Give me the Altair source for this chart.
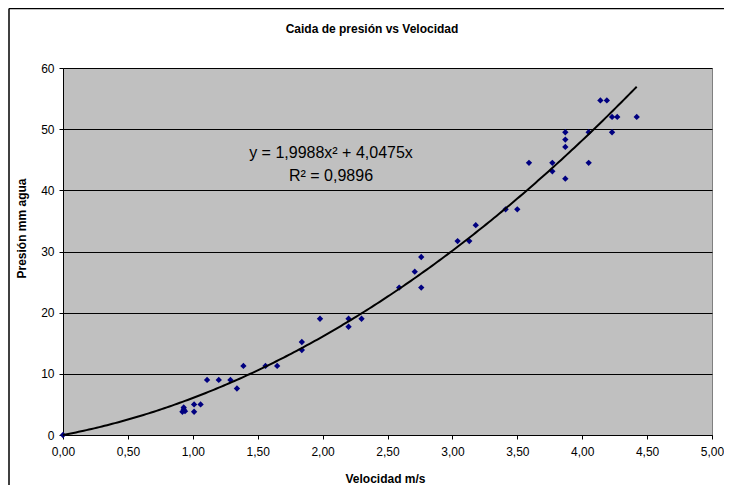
import altair as alt
import pandas as pd

velocidad = [0.0, 0.92, 0.93, 0.93, 0.94, 1.01, 1.01, 1.06, 1.11, 1.20, 1.29, 1.34, 1.39,
             1.56, 1.65, 1.84, 1.84, 1.98, 2.20, 2.20, 2.30, 2.59, 2.71, 2.76, 2.76, 3.04,
             3.13, 3.18, 3.41, 3.50, 3.59, 3.77, 3.77, 3.87, 3.87, 3.87, 3.87, 4.05, 4.05,
             4.14, 4.19, 4.23, 4.27, 4.23, 4.42]
presion = [0, 3.8, 4.2, 4.5, 3.9, 5.0, 3.8, 5.0, 9.0, 9.0, 9.0, 7.6, 11.3,
           11.3, 11.3, 15.2, 13.9, 19.0, 19.0, 17.7, 19.0, 24.1, 26.7, 29.1, 24.1, 31.7,
           31.7, 34.3, 36.9, 36.9, 44.5, 44.5, 43.1, 41.9, 47.1, 48.3, 49.5, 49.5, 44.5,
           54.7, 54.7, 52.0, 52.0, 49.5, 52.0]
x_ticks = [0, 0.5, 1, 1.5, 2, 2.5, 3, 3.5, 4, 4.5, 5]
y_ticks = [0, 10, 20, 30, 40, 50, 60]
title_text = "Caida de presión vs Velocidad"
eq_line1 = "y = 1,9988x² + 4,0475x"
eq_line2 = "R² = 0,9896"
# trendline coefficients as shown in the chart's equation (Excel poly fit, intercept 0)
coef_a = 1.9988
coef_b = 4.0475
v_max = 4.42

df = pd.DataFrame({"v": velocidad, "p": presion})

W, H = 649, 367
FONT = "Liberation Sans"

xs = alt.Scale(domain=[0, 5], nice=False)
ys = alt.Scale(domain=[0, 60], nice=False)

points = alt.Chart(df).mark_point(shape="diamond", filled=True, color="#000080", size=40, opacity=1).encode(
    x=alt.X("v:Q", scale=xs,
            axis=alt.Axis(values=x_ticks, title="Velocidad m/s",
                          labelExpr="replace(format(datum.value, '.2f'), '.', ',')",
                          labelFlush=False, grid=False, domainColor="black", tickColor="black",
                          tickSize=4, labelPadding=7,
                          titleX=322, titleY=43, titleBaseline="middle", titleAlign="center")),
    y=alt.Y("p:Q", scale=ys,
            axis=alt.Axis(values=y_ticks, title="Presión mm agua", format="d",
                          grid=True, gridColor="black", gridOpacity=1, gridWidth=1,
                          domainColor="black", tickColor="black", labelFlush=False,
                          tickSize=4, labelPadding=5,
                          titleX=-42, titleY=160, titleAngle=270,
                          titleBaseline="middle", titleAlign="center")),
)

trend = alt.Chart(alt.sequence(0, v_max + 0.001, 0.02, as_="v")).transform_calculate(
    p=f"{coef_a} * datum.v * datum.v + {coef_b} * datum.v"
).mark_line(color="black", strokeWidth=2).encode(
    x=alt.X("v:Q", scale=xs), y=alt.Y("p:Q", scale=ys)
)

def label(text, x, y, size, weight="normal", baseline="alphabetic"):
    return alt.Chart(pd.DataFrame({"t": [text]})).mark_text(
        font=FONT, fontSize=size, fontWeight=weight, color="black",
        align="center", baseline=baseline, clip=False
    ).encode(text="t:N", x=alt.value(x), y=alt.value(y))

eq1 = label(eq_line1, 268, 90, 16)
eq2 = label(eq_line2, 268, 113, 16)
ttl = label(title_text, 309, -39, 12, "bold", "middle")

border_df = pd.DataFrame({"a": [0]})
frame_left = alt.Chart(border_df).mark_rule(color="black", strokeWidth=1.5, clip=False).encode(
    x=alt.value(-54), y=alt.value(-59.5), y2=alt.value(440))
frame_top = alt.Chart(border_df).mark_rule(color="black", strokeWidth=1.5, clip=False).encode(
    x=alt.value(-54), x2=alt.value(680), y=alt.value(-59.5))

chart = alt.layer(frame_left, frame_top, points, trend, eq1, eq2, ttl).properties(
    width=W, height=H,
    autosize=alt.AutoSizeParams(type="none"),
    padding={"left": 55, "top": 60, "right": 12, "bottom": 50},
).configure_view(
    fill="#C0C0C0", stroke="#808080", strokeWidth=1
).configure_axis(
    labelFont=FONT, labelFontSize=12, labelColor="black",
    titleFont=FONT, titleFontSize=12, titleFontWeight="bold", titleColor="black",
)

chart.save("out.html", embed_options={"renderer": "svg", "actions": False})
